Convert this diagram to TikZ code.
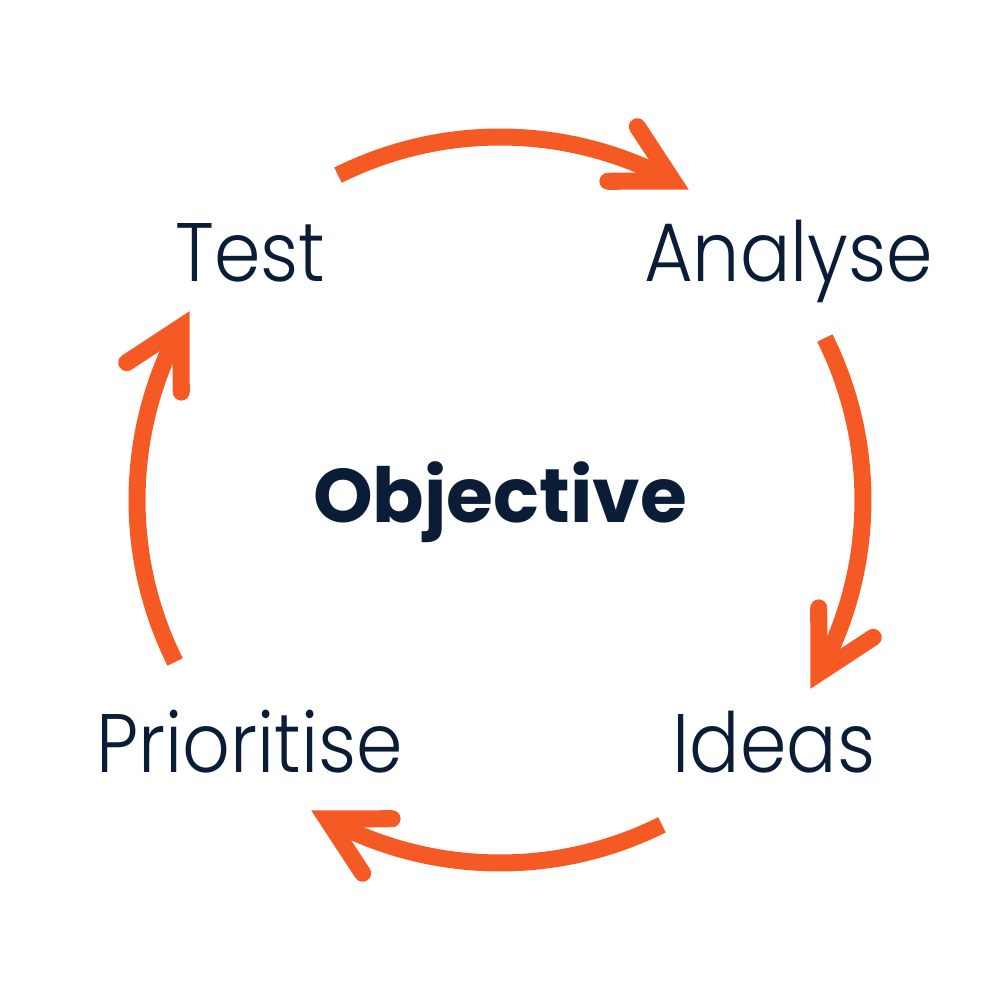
\documentclass[tikz,border=0pt]{standalone}
\usepackage{fontspec}
\IfFontExistsTF{Poppins Light}{\newfontfamily\labfont{Poppins Light}}{\newfontfamily\labfont{Poppins}}
\IfFontExistsTF{Poppins Bold}{\newfontfamily\objfont{Poppins Bold}}{\newfontfamily\objfont{Poppins}[UprightFont=*,BoldFont=*]}
\definecolor{arroworange}{HTML}{F65A24}
\definecolor{navytext}{HTML}{0B1C36}
\newcommand{\narrow}[1]{\scalebox{0.9}[1]{#1}}
\tikzset{
  shaft/.style={draw=arroworange, line width=1.7mm, line cap=butt},
  barbs/.style={draw=arroworange, line width=1.7mm, line cap=round, line join=miter},
  label/.style={text=navytext, inner sep=0pt, anchor=base, font=\labfont\fontsize{23.6pt}{28pt}\selectfont},
  centrelabel/.style={text=navytext, inner sep=0pt, anchor=base, font=\objfont\fontsize{21.6pt}{26pt}\selectfont}
}
\begin{document}
\begin{tikzpicture}[scale=0.01]
\useasboundingbox[fill=white] (-500,-500) rectangle (500,500);
\foreach \r/\n in {0/a,-90/b,-180/c,-270/d}{
  \coordinate (v\n) at (61.5+\r:363);
  \coordinate (p\n) at (69.8+\r:398);
  \coordinate (q\n) at (71.3+\r:336.7);
  \draw[shaft] (116.5+\r:363) arc[start angle=116.5+\r, end angle=62.5+\r, radius=363];
  \draw[barbs] (p\n) -- (v\n) -- (q\n);
}
\node[label] (test) at (-249.5,218) {\narrow{Test}};
\node[label] (analyse) at (288.5,218) {\narrow{Analyse}};
\node[label] (prioritise) at (-250.5,-272) {\narrow{Prioritise}};
\node[label] (ideas) at (274,-272) {\narrow{Ideas}};
\node[centrelabel] (objective) at (0,-22) {Objective};
\end{tikzpicture}
\end{document}
